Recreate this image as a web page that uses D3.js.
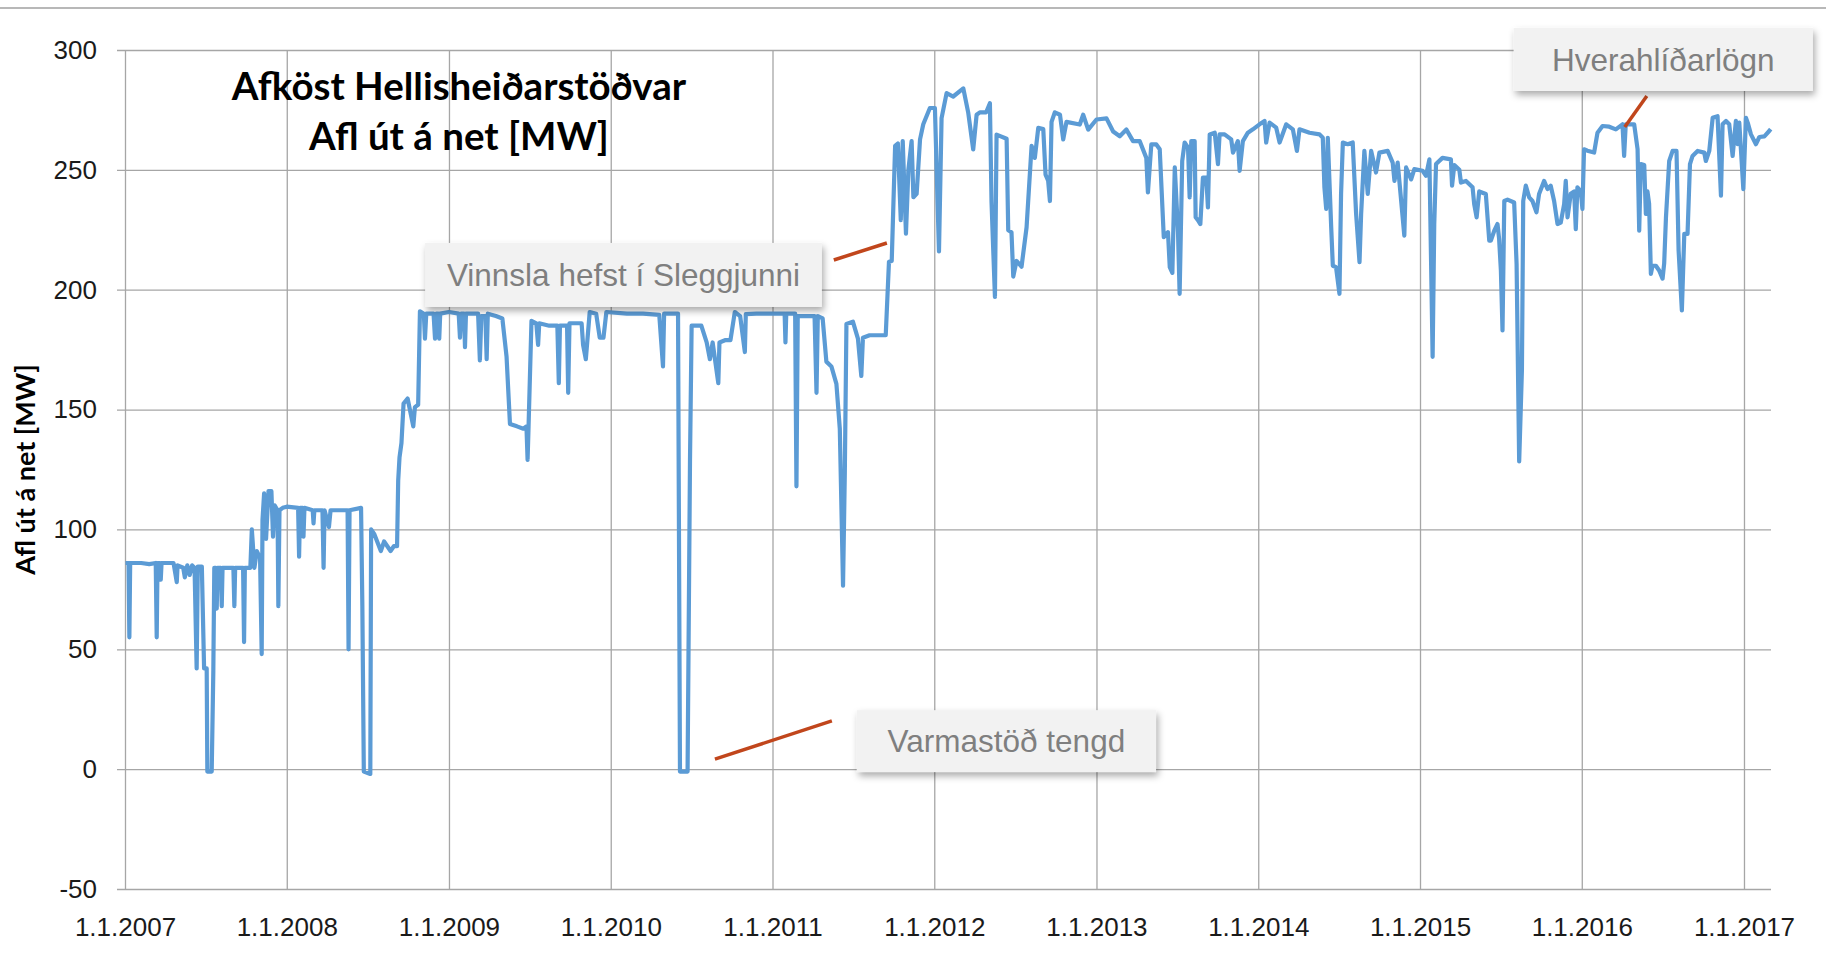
<!DOCTYPE html>
<html lang="is">
<head>
<meta charset="utf-8">
<script src="https://d3js.org/d3.v7.min.js"></script>
<style>
    body { margin: 0; background: #fff; }
    svg { display: block; font-family: Lato, "Open Sans", sans-serif; }
    .grid line { stroke: #a6a6a6; stroke-width: 1.3px; }
    .grid text { font-size: 26px; fill: #1a1a1a; }
    .grid .domain { display: none; }
    .note rect { fill: #f2f2f2; }
    .note text { font-family: "Liberation Sans", Arial, sans-serif; font-size: 31.5px; fill: #7f7f7f; }
    .leader { stroke: #c1461c; stroke-width: 3.5px; stroke-linecap: butt; }
</style>
</head>
<body>
<svg></svg>
<script>
    const width = 1826;
    const height = 961;

    // Afl út á net [MW] as [decimal year, MW]
    const output = [
        [2007.003, 86], [2007.022, 86], [2007.027, 55], [2007.032, 86], [2007.10, 86], [2007.15, 85.5],
        [2007.19, 86], [2007.196, 55], [2007.201, 86], [2007.215, 86], [2007.221, 79], [2007.226, 86],
        [2007.30, 86], [2007.32, 78], [2007.325, 85], [2007.36, 84], [2007.37, 80], [2007.385, 85],
        [2007.40, 81], [2007.415, 85], [2007.43, 84], [2007.443, 42], [2007.45, 84.5], [2007.475, 84.5],
        [2007.489, 42], [2007.505, 42], [2007.509, -1], [2007.536, -1], [2007.546, 41], [2007.552, 84],
        [2007.562, 84], [2007.567, 67], [2007.572, 84], [2007.592, 84], [2007.598, 68], [2007.603, 84],
        [2007.67, 84], [2007.676, 68], [2007.681, 84], [2007.73, 84], [2007.736, 53], [2007.741, 84],
        [2007.775, 84], [2007.784, 100], [2007.80, 84], [2007.815, 91], [2007.835, 88], [2007.845, 48],
        [2007.85, 104], [2007.86, 115], [2007.872, 96], [2007.887, 116], [2007.905, 116], [2007.915, 97],
        [2007.925, 110], [2007.943, 108], [2007.948, 68], [2007.955, 108], [2007.975, 109],
        [2008.0, 109.5], [2008.07, 109], [2008.076, 88.6], [2008.082, 109], [2008.098, 109], [2008.103, 97],
        [2008.109, 109], [2008.16, 108], [2008.165, 102.5], [2008.17, 108], [2008.22, 108], [2008.227, 84],
        [2008.233, 108], [2008.26, 101], [2008.27, 108], [2008.375, 108], [2008.381, 50], [2008.387, 108],
        [2008.458, 109], [2008.466, 68], [2008.475, -1], [2008.515, -2], [2008.52, 100], [2008.54, 98],
        [2008.58, 91], [2008.60, 95], [2008.62, 93], [2008.64, 91], [2008.66, 93], [2008.68, 93],
        [2008.687, 120.5], [2008.695, 130], [2008.707, 136], [2008.72, 152.5], [2008.745, 154.6], [2008.78, 143],
        [2008.79, 151], [2008.81, 152], [2008.821, 191], [2008.845, 190], [2008.852, 179.6], [2008.86, 190],
        [2008.905, 190], [2008.914, 179.6], [2008.922, 190], [2008.935, 190], [2008.94, 179.6], [2008.946, 190],
        [2009.0, 190.7], [2009.06, 190], [2009.068, 180], [2009.075, 190], [2009.093, 190], [2009.099, 176],
        [2009.105, 190], [2009.18, 190], [2009.191, 170.5], [2009.2, 189], [2009.225, 189], [2009.233, 171],
        [2009.24, 190], [2009.29, 189], [2009.33, 188], [2009.356, 172], [2009.377, 144], [2009.42, 143],
        [2009.46, 142], [2009.479, 143], [2009.486, 129], [2009.492, 143], [2009.51, 187], [2009.54, 186],
        [2009.551, 177], [2009.558, 186], [2009.62, 185], [2009.67, 185], [2009.679, 161], [2009.686, 185],
        [2009.73, 185], [2009.737, 157], [2009.745, 186], [2009.82, 186], [2009.829, 177], [2009.846, 171],
        [2009.87, 190.7], [2009.91, 190], [2009.932, 180], [2009.955, 180], [2009.973, 190.7],
        [2010.1, 190], [2010.2, 190], [2010.3, 189.5], [2010.323, 168], [2010.33, 190], [2010.416, 190],
        [2010.428, -1], [2010.475, -1], [2010.49, 129], [2010.5, 185], [2010.56, 185], [2010.593, 178],
        [2010.613, 171], [2010.63, 178], [2010.665, 161], [2010.672, 178], [2010.71, 179], [2010.74, 179],
        [2010.767, 190.7], [2010.80, 189], [2010.829, 174], [2010.835, 189.8], [2010.9, 190],
        [2011.0, 190], [2011.075, 190], [2011.08, 178], [2011.085, 190], [2011.14, 190], [2011.148, 118],
        [2011.156, 189], [2011.26, 189], [2011.272, 157], [2011.28, 189], [2011.31, 188], [2011.333, 170],
        [2011.364, 168], [2011.395, 160.7], [2011.416, 142], [2011.436, 76.5], [2011.447, 123.7], [2011.457, 185.7],
        [2011.497, 186.7], [2011.528, 179.6], [2011.549, 164], [2011.559, 180], [2011.60, 181], [2011.70, 181],
        [2011.72, 211.7], [2011.737, 212], [2011.758, 260], [2011.775, 261], [2011.793, 229], [2011.805, 262],
        [2011.825, 223.4], [2011.84, 250], [2011.86, 262], [2011.871, 238.6], [2011.891, 240], [2011.912, 262.7],
        [2011.932, 269], [2011.973, 275.8],
        [2012.004, 275.8], [2012.029, 216], [2012.045, 271.6], [2012.076, 282], [2012.117, 280.6], [2012.179, 284],
        [2012.209, 274], [2012.24, 258.5], [2012.261, 273], [2012.281, 274], [2012.32, 274], [2012.343, 277.8],
        [2012.353, 236.5], [2012.374, 197], [2012.384, 264.7], [2012.446, 263], [2012.456, 224.8], [2012.476, 224],
        [2012.487, 205.5], [2012.507, 212], [2012.538, 209.6], [2012.569, 226], [2012.6, 260], [2012.62, 255],
        [2012.641, 267.5], [2012.672, 267], [2012.686, 248], [2012.702, 245.5], [2012.713, 237], [2012.723, 270],
        [2012.743, 274], [2012.775, 273], [2012.795, 262.7], [2012.815, 270], [2012.897, 268.9], [2012.918, 273],
        [2012.949, 266.8],
        [2013.0, 271], [2013.062, 271.5], [2013.103, 266], [2013.144, 264], [2013.185, 266.8], [2013.226, 262],
        [2013.267, 262], [2013.308, 255], [2013.318, 240.6], [2013.339, 260.6], [2013.37, 260.6], [2013.391, 258.6],
        [2013.416, 221.9], [2013.442, 224], [2013.453, 209.4], [2013.469, 207], [2013.484, 251], [2013.504, 224],
        [2013.514, 198.3], [2013.53, 253.7], [2013.545, 261.4], [2013.566, 259.3], [2013.576, 238.5], [2013.586, 262],
        [2013.607, 262], [2013.613, 230.2], [2013.627, 229], [2013.642, 227.4], [2013.658, 246.8], [2013.679, 246.8],
        [2013.689, 234.3], [2013.7, 264.8], [2013.731, 265.5], [2013.751, 252.4], [2013.761, 264.8], [2013.792, 264.8],
        [2013.833, 262.7], [2013.844, 257.2], [2013.874, 262], [2013.885, 249.6], [2013.905, 262], [2013.936, 265.5],
        [2013.967, 266.9],
        [2014.008, 269], [2014.039, 270.4], [2014.049, 261.4], [2014.07, 269.7], [2014.111, 267.6], [2014.132, 261.4],
        [2014.173, 269], [2014.214, 266.9], [2014.239, 257.9], [2014.255, 266.9], [2014.317, 265.5], [2014.379, 264.8],
        [2014.399, 263.4], [2014.409, 242.7], [2014.42, 233.7], [2014.43, 263.4], [2014.451, 226], [2014.461, 210],
        [2014.481, 209.4], [2014.502, 198.3], [2014.512, 240], [2014.523, 261.4], [2014.553, 260.7], [2014.584, 261.4],
        [2014.605, 231.6], [2014.626, 211.5], [2014.636, 231.6], [2014.656, 257.9], [2014.677, 240], [2014.698, 257.9],
        [2014.728, 248.9], [2014.749, 257.2], [2014.8, 257.9], [2014.831, 253], [2014.842, 245.4], [2014.862, 253],
        [2014.903, 222.6], [2014.914, 251], [2014.945, 246], [2014.965, 250.3],
        [2015.016, 249.6], [2015.037, 247.5], [2015.058, 254.4], [2015.078, 172], [2015.088, 227.4], [2015.099, 252.4],
        [2015.139, 255], [2015.191, 254.4], [2015.198, 243.4], [2015.212, 252], [2015.243, 250], [2015.253, 244.7],
        [2015.284, 245.4], [2015.325, 242.7], [2015.335, 235.7], [2015.35, 230.2], [2015.366, 241], [2015.407, 239.9],
        [2015.428, 220.5], [2015.438, 220.5], [2015.459, 224.6], [2015.479, 227.4], [2015.489, 221.2], [2015.5, 208],
        [2015.51, 183], [2015.521, 237], [2015.541, 237.6], [2015.582, 236.4], [2015.597, 210.8], [2015.613, 128.4],
        [2015.63, 166.5], [2015.638, 237], [2015.654, 243.4], [2015.675, 238.5], [2015.695, 237], [2015.72, 232.3],
        [2015.736, 239.9], [2015.767, 245.4], [2015.788, 242], [2015.808, 243.4], [2015.829, 237], [2015.85, 227.4],
        [2015.87, 228], [2015.891, 235.7], [2015.901, 245.4], [2015.912, 230.2], [2015.932, 240], [2015.953, 241],
        [2015.963, 225.3], [2015.973, 242.7], [2015.994, 241],
        [2016.004, 233.7], [2016.014, 258.6], [2016.035, 258], [2016.076, 257.2], [2016.097, 265.5], [2016.128, 268.3],
        [2016.169, 268], [2016.21, 266.9], [2016.251, 269], [2016.261, 255.8], [2016.271, 269], [2016.323, 269],
        [2016.344, 258.6], [2016.354, 224.6], [2016.364, 252.4], [2016.385, 252], [2016.395, 231.6], [2016.405, 241],
        [2016.415, 236], [2016.426, 206.6], [2016.436, 210], [2016.457, 210], [2016.477, 208], [2016.498, 204.6],
        [2016.508, 211], [2016.519, 230.2], [2016.539, 253.7], [2016.56, 257.9], [2016.584, 257.9], [2016.597, 216.3],
        [2016.617, 191.4], [2016.632, 223.3], [2016.652, 223.3], [2016.667, 252.4], [2016.683, 255.8], [2016.714, 257.9],
        [2016.755, 257.2], [2016.765, 253.7], [2016.786, 257.9], [2016.807, 271.7], [2016.837, 272.4], [2016.858, 239.2],
        [2016.868, 269], [2016.889, 270.4], [2016.909, 269], [2016.93, 255.8], [2016.95, 270.4], [2016.961, 260.7],
        [2016.971, 269.7], [2016.981, 258.6], [2016.996, 242],
        [2017.012, 271.7], [2017.023, 269.7], [2017.043, 264.8], [2017.074, 260.7], [2017.095, 263.7], [2017.126, 264],
        [2017.156, 266.2], [2017.165, 267]
    ];

    const yTicks = [-50, 0, 50, 100, 150, 200, 250, 300];
    const xTickYears = d3.range(2007, 2018);
    const titleLines = ['Afköst Hellisheiðarstöðvar', 'Afl út á net [MW]'];
    const yLabel = 'Afl út á net [MW]';

    // callouts: box corners and leader line, all in [year, MW]
    const notes = [
        {text: 'Vinnsla hefst í Sleggjunni', box: [[2008.853, 219.5], [2011.305, 192.8]],
            leader: [[2011.379, 212.4], [2011.707, 219.5]]},
        {text: 'Varmastöð tengd', box: [[2011.521, 24.6], [2013.368, -1.2]],
            leader: [[2010.644, 4.2], [2011.367, 20.1]]},
        {text: 'Hverahlíðarlögn', box: [[2015.579, 309.2], [2017.426, 282.9]],
            leader: [[2016.265, 267.9], [2016.401, 280.8]]}
    ];

    const toDate = (yr) => {
        const y0 = Math.floor(yr);
        const start = Date.UTC(y0, 0, 1);
        const end = Date.UTC(y0 + 1, 0, 1);
        return new Date(start + (yr - y0) * (end - start));
    };

    const margin = {left: 125, right: 55, top: 50, bottom: 72};
    const svg = d3.select('svg').attr('width', width).attr('height', height);

    const x = d3.scaleUtc()
        .domain([toDate(2007), toDate(2017.167)])
        .range([margin.left, width - margin.right]);
    const y = d3.scaleLinear()
        .domain([-50, 300])
        .range([height - margin.bottom, margin.top]);

    const defs = svg.append('defs');
    defs.append('filter').attr('id', 'shadow')
        .attr('x', '-10%').attr('y', '-30%').attr('width', '125%').attr('height', '180%')
        .append('feDropShadow')
        .attr('dx', 2).attr('dy', 4).attr('stdDeviation', 3.5)
        .attr('flood-color', '#000').attr('flood-opacity', 0.33);

    // thin rule across the top of the slide
    svg.append('line')
        .attr('x1', 0).attr('x2', width).attr('y1', 8).attr('y2', 8)
        .attr('stroke', '#a0a0a0').attr('stroke-width', 1.5);

    // horizontal grid + y labels
    svg.append('g')
        .attr('class', 'grid')
        .attr('transform', `translate(${margin.left - 8},0)`)
        .call(d3.axisLeft(y)
            .tickValues(yTicks)
            .tickFormat((d) => String(d))
            .tickSize(-(width - margin.right - margin.left + 8))
            .tickPadding(20));

    // vertical grid + date labels
    svg.append('g')
        .attr('class', 'grid')
        .attr('transform', `translate(0,${y(-50)})`)
        .call(d3.axisBottom(x)
            .tickValues(xTickYears.map(toDate))
            .tickFormat(d3.utcFormat('%-d.%-m.%Y'))
            .tickSize(-(y(-50) - y(300)))
            .tickPadding(29));

    // the series
    const line = d3.line()
        .x((d) => x(toDate(d[0])))
        .y((d) => y(d[1]))
        .curve(d3.curveLinear);

    svg.append('path')
        .datum(output)
        .attr('d', line)
        .attr('fill', 'none')
        .attr('stroke', '#5b9bd5')
        .attr('stroke-width', 4.2)
        .attr('stroke-linejoin', 'round');

    // title
    const titleX = 459;
    titleLines.forEach((t, i) => {
        svg.append('text')
            .attr('x', titleX).attr('y', 100 + i * 50)
            .attr('text-anchor', 'middle')
            .style('font-size', '38.5px').style('font-weight', 700).style('fill', '#000')
            .text(t);
    });

    // y axis title
    svg.append('text')
        .attr('transform', `translate(35,${(y(-50) + y(300)) / 2}) rotate(-90)`)
        .attr('text-anchor', 'middle')
        .style('font-size', '27px').style('font-weight', 700).style('fill', '#000')
        .text(yLabel);

    // callouts
    svg.selectAll('.leader')
        .data(notes)
        .enter().append('line')
        .attr('class', 'leader')
        .attr('x1', (d) => x(toDate(d.leader[0][0])))
        .attr('y1', (d) => y(d.leader[0][1]))
        .attr('x2', (d) => x(toDate(d.leader[1][0])))
        .attr('y2', (d) => y(d.leader[1][1]));

    const note = svg.selectAll('.note')
        .data(notes)
        .enter().append('g')
        .attr('class', 'note');

    note.append('rect')
        .attr('x', (d) => x(toDate(d.box[0][0])))
        .attr('y', (d) => y(d.box[0][1]))
        .attr('width', (d) => x(toDate(d.box[1][0])) - x(toDate(d.box[0][0])))
        .attr('height', (d) => y(d.box[1][1]) - y(d.box[0][1]))
        .attr('filter', 'url(#shadow)');

    note.append('text')
        .attr('x', (d) => (x(toDate(d.box[0][0])) + x(toDate(d.box[1][0]))) / 2)
        .attr('y', (d) => (y(d.box[0][1]) + y(d.box[1][1])) / 2)
        .attr('dy', '0.36em')
        .attr('text-anchor', 'middle')
        .text((d) => d.text);
</script>
</body>
</html>
